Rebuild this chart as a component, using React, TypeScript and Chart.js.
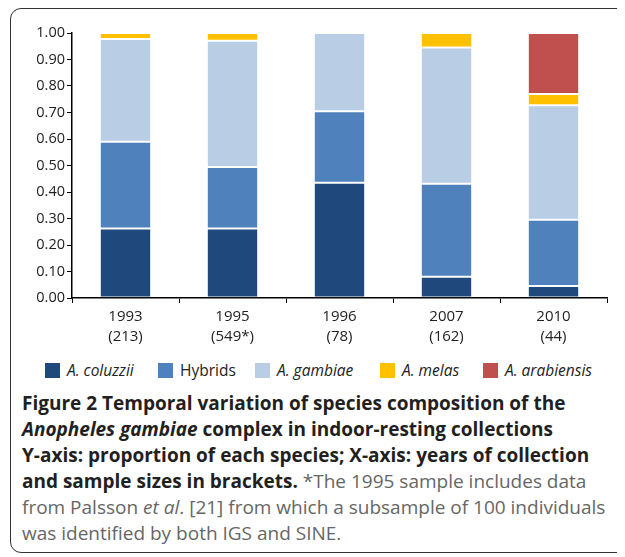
import React, { useEffect, useRef } from "react";
import { Chart, registerables } from "chart.js";

Chart.register(...registerables);

const years = ["1993", "1995", "1996", "2007", "2010"];
const sampleSizes = ["(213)", "(549*)", "(78)", "(162)", "(44)"];
const yTicks = [0, 0.1, 0.2, 0.3, 0.4, 0.5, 0.6, 0.7, 0.8, 0.9, 1.0];

const coluzzii = [0.262, 0.262, 0.435, 0.08, 0.045];
const hybrids = [0.328, 0.232, 0.27, 0.351, 0.25];
const gambiae = [0.387, 0.477, 0.295, 0.514, 0.432];
const melas = [0.023, 0.029, 0, 0.055, 0.043];
const arabiensis = [0, 0, 0, 0, 0.23];

const seriesNames = ["A. coluzzii", "Hybrids", "A. gambiae", "A. melas", "A. arabiensis"];
const seriesItalic = [true, false, true, true, true];
const seriesColors = ["#1F497D", "#4F81BD", "#B9CDE5", "#FFC000", "#C0504D"];
const seriesValues = [coluzzii, hybrids, gambiae, melas, arabiensis];

const FONT = "'Open Sans', sans-serif";

export default function App() {
  const ref = useRef<HTMLCanvasElement | null>(null);

  useEffect(() => {
    if (!ref.current) return;
    const chart = new Chart(ref.current, {
      type: "bar",
      data: {
        labels: years.map((y, i) => [y, sampleSizes[i]]),
        datasets: seriesValues.map((vals, i) => ({
          label: seriesNames[i],
          data: vals,
          backgroundColor: seriesColors[i],
          borderColor: "rgba(255,255,255,0.2)",
          borderWidth: 1,
          borderSkipped: false,
          barPercentage: 0.48,
          categoryPercentage: 1,
        })),
      },
      options: {
        animation: false,
        responsive: false,
        maintainAspectRatio: false,
        layout: { padding: { left: 0, right: 10, top: 25, bottom: 0 } },
        plugins: { legend: { display: false }, tooltip: { enabled: false } },
        scales: {
          x: {
            stacked: true,
            grid: {
              display: true,
              offset: true,
              drawOnChartArea: false,
              drawTicks: true,
              tickLength: 5,
              color: "#000",
            },
            border: { color: "#000", width: 1.5 },
            ticks: {
              color: "#222",
              font: { family: FONT, size: 15, lineHeight: 1.33 },
              padding: 4,
              maxRotation: 0,
            },
            afterFit: (s: any) => {
              s.height = 55;
            },
          },
          y: {
            stacked: true,
            min: 0,
            max: 1,
            afterBuildTicks: (s: any) => {
              s.ticks = yTicks.map((v) => ({ value: v }));
            },
            grid: {
              display: true,
              drawOnChartArea: false,
              drawTicks: true,
              tickLength: 5,
              color: "#000",
            },
            border: { color: "#000", width: 1.5 },
            ticks: {
              color: "#222",
              font: { family: FONT, size: 14.5 },
              padding: 2,
              callback: (v: any) => Number(v).toFixed(2),
            },
            afterFit: (s: any) => {
              s.width = 64;
            },
          },
        },
      },
    });
    return () => chart.destroy();
  }, []);

  const legendPos = [37, 150, 247, 372, 475];

  return (
    <div style={{ position: "relative", width: 609, height: 549, overflow: "hidden", fontFamily: FONT }}>
      <div
        style={{
          position: "absolute",
          left: 2,
          top: 0,
          width: 660,
          height: 545,
          border: "1.5px solid #333",
          borderRadius: 11,
          boxSizing: "border-box",
        }}
      />
      <canvas ref={ref} width={609} height={345} style={{ position: "absolute", left: 0, top: 0, width: 609, height: 345 }} />
      {seriesNames.map((n, i) => (
        <div
          key={n}
          style={{
            position: "absolute",
            left: legendPos[i],
            top: 351,
            display: "flex",
            alignItems: "center",
            whiteSpace: "nowrap",
            fontSize: 15.5,
            color: "#222",
            fontStyle: seriesItalic[i] ? "italic" : "normal",
          }}
        >
          <span style={{ display: "inline-block", width: 15, height: 15, background: seriesColors[i], marginRight: 7 }} />
          <span>{n}</span>
        </div>
      ))}
      <div
        style={{
          position: "absolute",
          left: 14,
          top: 383,
          width: 620,
          fontSize: 19,
          lineHeight: "25.9px",
          letterSpacing: "0px",
          color: "#666",
          whiteSpace: "nowrap",
        }}
      >
        <span style={{ fontWeight: 700, color: "#231F20" }}>
          Figure 2 Temporal variation of species composition of the
          <br />
          <i>Anopheles gambiae</i> complex in indoor-resting collections
          <br />
          Y-axis: proportion of each species; X-axis: years of collection
          <br />
          and sample sizes in brackets.
        </span>{" "}
        *The 1995 sample includes data
        <br />
        from Palsson <i>et al</i>. [21] from which a subsample of 100 individuals
        <br />
        was identified by both IGS and SINE.
      </div>
    </div>
  );
}
